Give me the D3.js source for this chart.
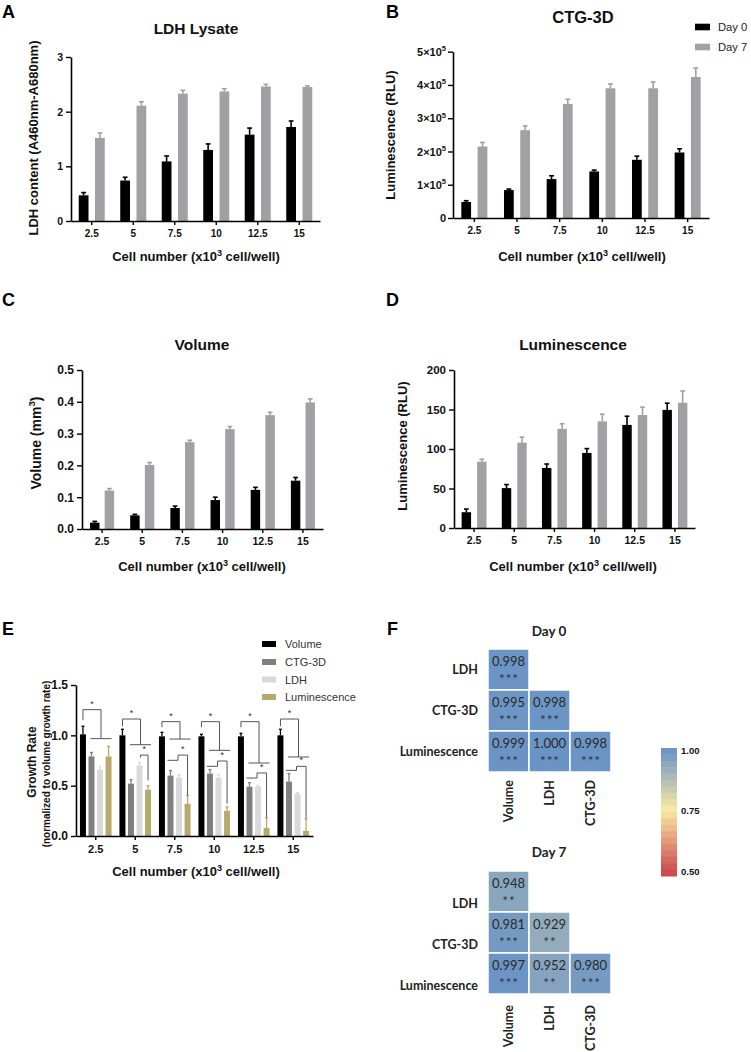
<!DOCTYPE html>
<html><head><meta charset="utf-8">
<script src="https://cdn.jsdelivr.net/npm/d3@7"></script>
<style>body{margin:0;background:#fff}svg{display:block}</style>
</head><body>
<svg id="chart" width="751" height="1052"></svg>
<script>
// ---------------- DATA ----------------
const cellNumbers = ["2.5","5","7.5","10","12.5","15"];
const days = ["Day 0","Day 7"];

// A: LDH lysate
const ldhDay0 = [0.47,0.74,1.09,1.30,1.58,1.72];
const ldhDay0Err = [0.05,0.06,0.10,0.11,0.12,0.11];
const ldhDay7 = [1.52,2.11,2.33,2.37,2.46,2.45];
const ldhDay7Err = [0.09,0.07,0.06,0.05,0.04,0.02];
const ldhTicks = [0,1,2,3];

// B: CTG-3D
const ctgDay0 = [48000,84000,117000,140000,175000,197000];
const ctgDay0Err = [4000,3000,10000,4000,11000,11000];
const ctgDay7 = [215000,264000,343000,390000,390000,424000];
const ctgDay7Err = [12000,13000,14000,13000,19000,27000];
const ctgTicks = [0,100000,200000,300000,400000,500000];

// C: Volume
const volDay0 = [0.020,0.043,0.066,0.091,0.123,0.152];
const volDay0Err = [0.004,0.003,0.006,0.009,0.008,0.010];
const volDay7 = [0.121,0.201,0.273,0.314,0.358,0.398];
const volDay7Err = [0.006,0.008,0.006,0.008,0.009,0.011];
const volTicks = [0,0.1,0.2,0.3,0.4,0.5];

// D: Luminescence
const lumDay0 = [20,50.5,76,95,130.5,149.5];
const lumDay0Err = [4,4.5,5,5.5,11,8.5];
const lumDay7 = [84,108,125.5,135,143,158.5];
const lumDay7Err = [3,7,6.5,9,10,15];
const lumTicks = [0,50,100,150,200];

// E: Growth rate
const growthSeries = ["Volume","CTG-3D","LDH","Luminescence"];
const grVolume = [1.01,1.00,0.99,0.99,0.99,1.00];
const grVolumeErr = [0.08,0.06,0.04,0.02,0.03,0.06];
const grCTG = [0.79,0.52,0.60,0.62,0.49,0.54];
const grCTGErr = [0.04,0.04,0.05,0.04,0.04,0.08];
const grLDH = [0.66,0.70,0.58,0.58,0.49,0.42];
const grLDHErr = [0.03,0.03,0.03,0.03,0.01,0.01];
const grLum = [0.79,0.46,0.32,0.25,0.08,0.05];
const grLumErr = [0.10,0.04,0.08,0.04,0.10,0.12];
const growthTicks = [0,0.5,1.0,1.5];
// significance brackets (data units)
const sigOuterTop = [1.255,1.162,1.136,1.136,1.136,1.162];
const sigOuterLeftEnd = [1.15,1.09,1.08,1.08,1.08,1.09];
const sigOuterRightEnd = [0.967,0.907,0.963,0.851,0.725,0.785];
const sigInnerTop = [null,0.804,0.804,0.745,0.626,0.692];
const sigInnerLeftEnd = [null,0.78,0.752,0.692,0.576,0.652];
const sigInnerRightEnd = [null,0.553,0.404,0.321,0.183,0.173];
const sigInnerBase = [false,false,true,true,true,true];

// F: correlation heatmaps
const heatRows = ["LDH","CTG-3D","Luminescence"];
const heatCols = ["Volume","LDH","CTG-3D"];
const day0R = [[0.998],[0.995,0.998],[0.999,1.000,0.998]];
const day0Sig = [["***"],["***","***"],["***","***","***"]];
const day7R = [[0.948],[0.981,0.929],[0.997,0.952,0.980]];
const day7Sig = [["**"],["***","**"],["***","**","***"]];
const colorbarTicks = [1.00,0.75,0.50];

// ---------------- DRAWING ----------------
const svg = d3.select("#chart");
const FONT = "'Liberation Sans', Arial, sans-serif";
const FONTF = "Lato, 'Open Sans', sans-serif";
const BLACK = "#000", GRAY = "#a0a0a5";

function richText(parent, x, y, parts, o) {
  const t = parent.append("text").attr("x", x).attr("y", y)
    .attr("font-family", o.family || FONT).attr("font-weight", o.weight || "bold")
    .attr("font-size", o.size).attr("text-anchor", o.anchor || "middle").attr("fill", o.fill || "#111");
  if (o.rotate) t.attr("transform", `rotate(-90,${x},${y})`);
  let sup = false;
  parts.forEach(p => {
    if (typeof p === "string") {
      const ts = t.append("tspan").text(p);
      if (sup) ts.attr("dy", o.size * 0.4);
      sup = false;
    } else {
      t.append("tspan").attr("dy", -o.size * 0.4).attr("font-size", o.size * 0.7).text(p.sup);
      sup = true;
    }
  });
  return t;
}

function barPanel(cfg) {
  const g = svg.append("g");
  const x0 = d3.scaleBand().domain(cellNumbers).range([cfg.left, cfg.right])
    .paddingInner(cfg.padInner).paddingOuter(cfg.padInner / 2);
  const x1 = d3.scaleBand().domain(cfg.series.map(s => s.name)).range([0, x0.bandwidth()])
    .paddingInner(cfg.subPad);
  const y = d3.scaleLinear().domain(cfg.domain).range([cfg.bottom, cfg.top]);
  cfg.series.forEach(s => {
    const sg = g.append("g");
    sg.selectAll("rect").data(s.values).join("rect")
      .attr("x", (d, i) => x0(cellNumbers[i]) + x1(s.name))
      .attr("width", x1.bandwidth())
      .attr("y", d => y(d)).attr("height", d => y(0) - y(d))
      .attr("fill", s.color);
    const cw = x1.bandwidth() * 0.5;
    const eg = sg.append("g").attr("stroke", s.color).attr("stroke-width", cfg.errW || 1.6);
    s.values.forEach((v, i) => {
      const cx = x0(cellNumbers[i]) + x1(s.name) + x1.bandwidth() / 2;
      eg.append("line").attr("x1", cx).attr("x2", cx).attr("y1", y(v)).attr("y2", y(v + s.errs[i]));
      eg.append("line").attr("x1", cx - cw / 2).attr("x2", cx + cw / 2)
        .attr("y1", y(v + s.errs[i])).attr("y2", y(v + s.errs[i]));
    });
  });
  const ya = g.append("g").attr("transform", `translate(${cfg.left},0)`)
    .call(d3.axisLeft(y).tickValues(cfg.ticks).tickSize(5).tickPadding(cfg.yPad || 3)
      .tickSizeOuter(0).tickFormat(cfg.fmt));
  const xa = g.append("g").attr("transform", `translate(0,${y(0)})`)
    .call(d3.axisBottom(x0).tickSize(4).tickPadding(cfg.xPad || 5).tickSizeOuter(0));
  [ya, xa].forEach(a => {
    a.select(".domain").attr("stroke", BLACK).attr("stroke-width", 1.6);
    a.selectAll(".tick line").attr("stroke", BLACK).attr("stroke-width", 1.4);
    a.selectAll(".tick text").attr("font-family", FONT).attr("font-weight", "bold").attr("fill", "#111");
  });
  ya.selectAll(".tick text").attr("font-size", cfg.yFont);
  xa.selectAll(".tick text").attr("font-size", cfg.xFont);
  return { g, x0, x1, y, ya, xa };
}

function panelLetter(letter, x, y) {
  svg.append("text").attr("x", x).attr("y", y).attr("font-family", FONT).attr("font-weight", "bold")
    .attr("font-size", 18).attr("fill", "#000").text(letter);
}

function xLabel(g, x, y, size) {
  richText(g, x, y, ["Cell number (x10", { sup: "3" }, " cell/well)"], { size: size || 13 });
}

// ---- Panel A ----
panelLetter("A", 2, 18);
const pA = barPanel({
  left: 71, right: 320, top: 57, bottom: 221, domain: [0, 3], ticks: ldhTicks, fmt: d3.format("d"),
  padInner: 0.373, subPad: 0.4, yFont: 10.5, xFont: 10,
  series: [{ name: days[0], values: ldhDay0, errs: ldhDay0Err, color: BLACK },
           { name: days[1], values: ldhDay7, errs: ldhDay7Err, color: GRAY }]
});
richText(pA.g, 196, 34, ["LDH Lysate"], { size: 15.5 });
richText(pA.g, 37.5, 138, ["LDH content (A460nm-A680nm)"], { size: 13, rotate: true });
xLabel(pA.g, 196, 261);

// ---- Panel B ----
panelLetter("B", 386, 18);
const pB = barPanel({
  left: 453, right: 709, top: 51.7, bottom: 218, domain: [0, 500000], ticks: ctgTicks, fmt: d => d,
  padInner: 0.39, subPad: 0.4, yFont: 11, xFont: 10, yPad: 2,
  series: [{ name: days[0], values: ctgDay0, errs: ctgDay0Err, color: BLACK },
           { name: days[1], values: ctgDay7, errs: ctgDay7Err, color: GRAY }]
});
pB.ya.selectAll(".tick text").each(function (d) {
  const t = d3.select(this);
  if (d === 0) { t.text("0"); return; }
  t.text(null);
  t.append("tspan").text((d / 100000) + "\u00d710");
  t.append("tspan").attr("dy", -4.5).attr("font-size", 7.5).text("5");
});
richText(pB.g, 583, 22.5, ["CTG-3D"], { size: 16.5 });
richText(pB.g, 395, 135, ["Luminescence (RLU)"], { size: 13, rotate: true });
xLabel(pB.g, 582, 261);
// legend B
[[days[0], BLACK, 27], [days[1], GRAY, 47]].forEach(([n, c, cy]) => {
  pB.g.append("rect").attr("x", 695).attr("y", cy - 3.3).attr("width", 15).attr("height", 6.6).attr("fill", c);
  pB.g.append("text").attr("x", 718).attr("y", cy + 4).attr("font-family", FONT).attr("font-size", 11.2)
    .attr("fill", "#222").text(n);
});

// ---- Panel C ----
panelLetter("C", 2, 306);
const pC = barPanel({
  left: 82, right: 323, top: 370, bottom: 529, domain: [0, 0.5], ticks: volTicks, fmt: d3.format(".1f"),
  padInner: 0.40, subPad: 0.355, yFont: 12, xFont: 10.5,
  series: [{ name: days[0], values: volDay0, errs: volDay0Err, color: BLACK },
           { name: days[1], values: volDay7, errs: volDay7Err, color: GRAY }]
});
richText(pC.g, 202, 350, ["Volume"], { size: 15.5 });
richText(pC.g, 41, 443, ["Volume (mm", { sup: "3" }, ")"], { size: 14, rotate: true });
xLabel(pC.g, 202, 571);

// ---- Panel D ----
panelLetter("D", 386, 306);
const pD = barPanel({
  left: 454, right: 695, top: 370, bottom: 528, domain: [0, 200], ticks: lumTicks, fmt: d3.format("d"),
  padInner: 0.38, subPad: 0.39, yFont: 11.5, xFont: 10.5,
  series: [{ name: days[0], values: lumDay0, errs: lumDay0Err, color: BLACK },
           { name: days[1], values: lumDay7, errs: lumDay7Err, color: GRAY }]
});
richText(pD.g, 573, 350, ["Luminescence"], { size: 15.5 });
richText(pD.g, 407, 446, ["Luminescence (RLU)"], { size: 13, rotate: true });
xLabel(pD.g, 573, 571);

// ---- Panel E ----
panelLetter("E", 2, 635);
const eColors = { "Volume": "#000000", "CTG-3D": "#7f7f7f", "LDH": "#d9d9d9", "Luminescence": "#b7a96c" };
const pE = barPanel({
  left: 76, right: 313, top: 685, bottom: 836, domain: [0, 1.5], ticks: growthTicks, fmt: d3.format(".1f"),
  padInner: 0.2, subPad: 0.3, yFont: 12, xFont: 11, errW: 1.3,
  series: [{ name: "Volume", values: grVolume, errs: grVolumeErr, color: eColors["Volume"] },
           { name: "CTG-3D", values: grCTG, errs: grCTGErr, color: eColors["CTG-3D"] },
           { name: "LDH", values: grLDH, errs: grLDHErr, color: eColors["LDH"] },
           { name: "Luminescence", values: grLum, errs: grLumErr, color: eColors["Luminescence"] }]
});
richText(pE.g, 36, 762, ["Growth Rate"], { size: 12, rotate: true });
richText(pE.g, 50, 764, ["(normalized to volume growth rate)"], { size: 10, rotate: true });
xLabel(pE.g, 196, 876);
// legend E
growthSeries.forEach((n, i) => {
  const cy = [644, 662, 679.5, 697][i];
  pE.g.append("rect").attr("x", 262).attr("y", cy - 3).attr("width", 14).attr("height", 6).attr("fill", eColors[n]);
  pE.g.append("text").attr("x", 285).attr("y", cy + 4).attr("font-family", FONT).attr("font-size", 11)
    .attr("fill", "#333").text(n);
});
// significance brackets
{
  const { x0, x1, y, g } = pE;
  const cx = (i, s) => x0(cellNumbers[i]) + x1(s) + x1.bandwidth() / 2;
  const bg = g.append("g").attr("fill", "none").attr("stroke", "#555").attr("stroke-width", 1);
  const star = (x, yy) => g.append("text").attr("x", x).attr("y", yy + 5).attr("text-anchor", "middle")
    .attr("font-family", FONT).attr("font-size", 9).attr("fill", "#333").text("*");
  cellNumbers.forEach((c, i) => {
    const vx = cx(i, "Volume"), cc = cx(i, "CTG-3D"), lc = cx(i, "LDH"), uc = cx(i, "Luminescence");
    const rx = (cc + uc) / 2 + 1;
    bg.append("path").attr("d", `M${vx},${y(sigOuterLeftEnd[i])}V${y(sigOuterTop[i])}H${rx}V${y(sigOuterRightEnd[i])}`);
    bg.append("path").attr("d", `M${cc - 1},${y(sigOuterRightEnd[i])}H${uc + 3}`);
    star((vx + rx) / 2, y(sigOuterTop[i]) - 8);
    if (sigInnerTop[i] !== null) {
      let lx;
      if (sigInnerBase[i]) {
        lx = lc - 1;
        bg.append("path").attr("d", `M${cc - 3},${y(sigInnerLeftEnd[i])}H${lx}`);
      } else lx = lc + 1;
      bg.append("path").attr("d", `M${lx},${y(sigInnerLeftEnd[i])}V${y(sigInnerTop[i])}H${uc}V${y(sigInnerRightEnd[i])}`);
      star((lx + uc) / 2, y(sigInnerTop[i]) - 8);
    }
  });
}

// ---- Panel F ----
panelLetter("F", 387, 635);
const heatColor = d3.scaleLinear().domain([0.5, 0.75, 1.0]).range(["#cb4d4d", "#fce9a4", "#6a94c5"]);

function heatmap(r, sig, top, title, titleY, labelShift, colTop) {
  const g = svg.append("g");
  const x = d3.scaleBand().domain(heatCols).range([488, 611]);
  const y = d3.scaleBand().domain(heatRows).range([top, top + 123]);
  const cells = [];
  r.forEach((row, i) => row.forEach((v, j) => cells.push({ row: heatRows[i], col: heatCols[j], v, s: sig[i][j] })));
  g.selectAll("rect").data(cells).join("rect")
    .attr("x", d => x(d.col)).attr("y", d => y(d.row))
    .attr("width", x.bandwidth()).attr("height", y.bandwidth())
    .attr("fill", d => heatColor(d.v)).attr("stroke", "#fff").attr("stroke-width", 1.5);
  g.selectAll("text.v").data(cells).join("text").attr("class", "v")
    .attr("x", d => x(d.col) + x.bandwidth() / 2).attr("y", d => y(d.row) + y.bandwidth() / 2 - 3.5)
    .attr("text-anchor", "middle").attr("font-family", FONTF).attr("font-size", 13).attr("fill", "#2a2a2a")
    .text(d => d3.format(".3f")(d.v));
  g.selectAll("text.s").data(cells).join("text").attr("class", "s")
    .attr("x", d => x(d.col) + x.bandwidth() / 2 + 0.5).attr("y", d => y(d.row) + y.bandwidth() / 2 + 14)
    .attr("text-anchor", "middle").attr("font-family", FONTF).attr("font-size", 13.5).attr("fill", "#333")
    .attr("letter-spacing", 1).text(d => d.s);
  g.selectAll("text.r").data(heatRows).join("text").attr("class", "r")
    .attr("x", 478).attr("y", d => y(d) + y.bandwidth() / 2 + 4.5 + labelShift)
    .attr("text-anchor", "end").attr("font-family", FONTF).attr("font-weight", "bold")
    .attr("font-size", 12.5).attr("fill", "#222").text(d => d);
  g.selectAll("text.c").data(heatCols).join("text").attr("class", "c")
    .attr("transform", d => `translate(${x(d) + x.bandwidth() / 2 + 4.5},${colTop}) rotate(-90)`)
    .attr("text-anchor", "end").attr("font-family", FONTF).attr("font-weight", "bold")
    .attr("font-size", 12.5).attr("fill", "#222").text(d => d);
  g.append("text").attr("x", 549).attr("y", titleY).attr("text-anchor", "middle")
    .attr("font-family", FONTF).attr("font-weight", "bold").attr("font-size", 13.5).attr("fill", "#222").text(title);
}
heatmap(day0R, day0Sig, 649, "Day 0", 636, 0, 780);
heatmap(day7R, day7Sig, 871, "Day 7", 857, 12, 1005);

// colorbar
{
  const g = svg.append("g");
  const cb = d3.scaleLinear().domain([0.5, 1.0]).range([871, 750]);
  const nSteps = 20, top = 748, bottom = 876, h = (bottom - top) / nSteps;
  d3.range(nSteps).forEach(k => {
    const v = cb.invert(top + (k + 0.5) * h);
    g.append("rect").attr("x", 661).attr("y", top + k * h).attr("width", 16).attr("height", h + 0.5)
      .attr("fill", heatColor(Math.max(0.5, Math.min(1, v))));
  });
  colorbarTicks.forEach(t => {
    g.append("text").attr("x", 681).attr("y", cb(t) + 3.5).attr("font-family", FONT).attr("font-weight", "bold")
      .attr("font-size", 9.5).attr("fill", "#111").text(d3.format(".2f")(t));
  });
}
</script>
</body></html>
